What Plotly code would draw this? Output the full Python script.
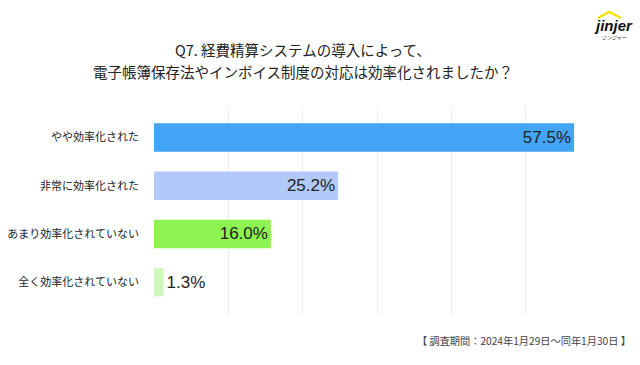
import plotly.graph_objects as go

categories = ["やや効率化された", "非常に効率化された", "あまり効率化されていない", "全く効率化されていない"]
values = [57.5, 25.2, 16.0, 1.3]
colors = ["#42A5F5", "#B1CAFA", "#8DF350", "#CDF8B9"]
labels = [f"{v:.1f}%" for v in values]
positions = ["inside", "inside", "inside", "outside"]
title_lines = ["Q7. 経費精算システムの導入によって、",
               "電子帳簿保存法やインボイス制度の対応は効率化されましたか？"]
footer = "【 調査期間：2024年1月29日～同年1月30日 】"

L, R, T, B = 154, 600, 107, 315
PW, PH = R - L, B - T
XMAX = 61.05


def px(x):
    return (x - L) / PW


def py(y):
    return (B - y) / PH


fig = go.Figure()
fig.add_trace(go.Bar(
    y=list(range(len(categories))), x=values, orientation="h",
    marker=dict(color=colors, line=dict(width=0)),
    width=0.59,
    text=labels, textposition=positions, insidetextanchor="end",
    textfont=dict(size=17, color="#222222", family="Liberation Sans"),
    cliponaxis=False, hoverinfo="skip",
))

fig.update_layout(
    width=640, height=365,
    margin=dict(l=L, r=640 - R, t=T, b=365 - B, autoexpand=False),
    paper_bgcolor="white", plot_bgcolor="white",
    showlegend=False,
    font=dict(family="Noto Sans CJK JP", color="#222222"),
)
fig.update_xaxes(range=[0, XMAX], tick0=0, dtick=XMAX / 6, showgrid=True, gridcolor="#EDEDED",
                 gridwidth=1, showticklabels=False, zeroline=False, showline=False,
                 automargin=False)
fig.update_yaxes(range=[3.68, -0.63], tickmode="array",
                 tickvals=list(range(len(categories))), ticktext=categories,
                 tickfont=dict(size=11, color="#222222"), ticklabelstandoff=14,
                 showgrid=False, zeroline=False, showline=False, ticks="",
                 automargin=False)

for line, yy in zip(title_lines, [49, 72]):
    fig.add_annotation(text=line, xref="paper", yref="paper", x=px(303), y=py(yy),
                       xanchor="center", yanchor="middle", showarrow=False,
                       font=dict(size=14.5, color="#222222"))
fig.add_annotation(text=footer,
                   xref="paper", yref="paper", x=px(633), y=py(340),
                   xanchor="right", yanchor="middle", showarrow=False,
                   font=dict(size=10.2, color="#444444"))
# logo
fig.add_shape(type="path", xref="paper", yref="paper",
              path="M {0},{1} L {2},{3} L {4},{1}".format(
                  px(598), py(18), px(609), py(12), px(621)),
              line=dict(color="#F2E600", width=2.5))
fig.add_annotation(text="<b><i>jinjer</i></b>", xref="paper", yref="paper",
                   x=px(613), y=py(25), xanchor="center", yanchor="middle",
                   showarrow=False, font=dict(size=15, color="#111111", family="Liberation Sans"))
fig.add_annotation(text="ジンジャー", xref="paper", yref="paper",
                   x=px(614), y=py(36), xanchor="center", yanchor="middle",
                   showarrow=False, font=dict(size=5, color="#333333"))

fig.write_html("out.html", config={"displayModeBar": False},
               post_script="document.body.style.margin='0';")
